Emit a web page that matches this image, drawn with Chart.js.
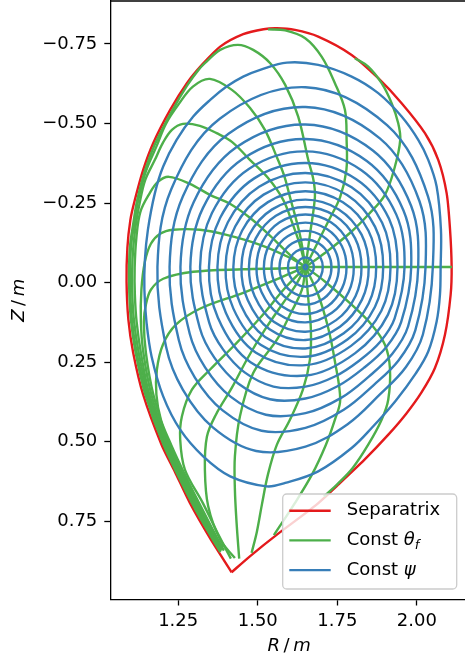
<!DOCTYPE html>
<html>
<head>
<meta charset="utf-8">
<script src="https://cdn.jsdelivr.net/npm/chart.js@4"></script>
<style>
html,body{margin:0;padding:0;background:#fff;overflow:hidden;}
#wrap{position:relative;width:470px;height:659px;}
</style>
</head>
<body>
<div id="wrap"><canvas id="c" width="470" height="659"></canvas></div>
<script>
// Axis limits (m) and tick positions
const rLimits = [1.0367, 2.160];
const zLimits = [-0.8847, 0.9955];
const rTicks = [1.25, 1.50, 1.75, 2.00];
const zTicks = [-0.75, -0.50, -0.25, 0.00, 0.25, 0.50, 0.75];

// Last closed surface, [R, Z] in m, from the X-point round and back
const separatrix = [
  [1.4178,0.9100],[1.3496,0.8020],[1.2868,0.6922],[1.2396,0.5939],[1.1978,0.5091],
  [1.1400,0.3521],[1.1086,0.2203],[1.0935,0.1166],[1.0878,-0.0027],[1.0904,-0.1094],
  [1.0998,-0.1973],[1.1139,-0.2601],[1.1400,-0.3543],[1.1714,-0.4381],[1.2249,-0.5427],
  [1.2774,-0.6265],[1.3245,-0.6840],[1.3820,-0.7414],[1.4543,-0.7804],[1.5181,-0.7961],
  [1.5602,-0.7992],[1.6168,-0.7939],[1.6900,-0.7729],[1.7950,-0.7154],[1.8786,-0.6422],
  [1.9521,-0.5637],[2.0253,-0.4695],[2.0671,-0.3857],[2.0935,-0.2812],[2.1039,-0.1713],
  [2.1092,-0.0507],[2.1061,0.0381],[2.0882,0.1637],[2.0567,0.2683],[2.0140,0.3458],
  [1.9665,0.4118],[1.9103,0.4777],[1.8355,0.5562],[1.7528,0.6347],[1.6828,0.6991],
  [1.5602,0.7917],[1.4753,0.8598],[1.4178,0.9100]
];

// Flux surfaces (closed), [R, Z] in m, innermost first, going round from the outboard midplane
const psi00 = [[1.656,-0.049],[1.650,-0.056],[1.644,-0.049],[1.650,-0.042]];
const psi01 = [[1.6761,-0.049],[1.6733,-0.0625],[1.6645,-0.0741],[1.650,-0.0791],[1.6353,-0.0744],[1.6258,-0.0630],[1.6227,-0.049],[1.6259,-0.0351],[1.6355,-0.0240],[1.650,-0.0195],[1.6643,-0.0243],[1.6732,-0.0356]];
const psi02 = [[1.7044,-0.049],[1.6979,-0.0766],[1.6786,-0.0984],[1.650,-0.1071],[1.6214,-0.0986],[1.6017,-0.0768],[1.5950,-0.049],[1.6010,-0.0207],[1.6199,0.0030],[1.650,0.0132],[1.6800,0.0029],[1.6985,-0.0210]];
const psi03 = [[1.7317,-0.049],[1.7217,-0.0904],[1.6926,-0.1227],[1.650,-0.1354],[1.6074,-0.1227],[1.5783,-0.0904],[1.5683,-0.049],[1.5773,-0.0071],[1.6056,0.0279],[1.650,0.0427],[1.6944,0.0279],[1.7227,-0.0071]];
const psi04 = [[1.7547,-0.049],[1.7424,-0.1023],[1.7055,-0.1451],[1.650,-0.1624],[1.5941,-0.1456],[1.5561,-0.1031],[1.5431,-0.049],[1.5553,0.0056],[1.5925,0.0505],[1.650,0.0691],[1.7072,0.0499],[1.7432,0.0048]];
const psi05 = [[1.7789,-0.049],[1.7641,-0.1148],[1.7184,-0.1674],[1.650,-0.1884],[1.5814,-0.1677],[1.5349,-0.1154],[1.5193,-0.049],[1.5332,0.0184],[1.5780,0.0756],[1.650,0.0986],[1.7206,0.0732],[1.7650,0.0173]];
const psi06 = [[1.8018,-0.049],[1.7848,-0.1267],[1.7310,-0.1891],[1.650,-0.2142],[1.5688,-0.1895],[1.5143,-0.1273],[1.4960,-0.049],[1.5121,0.0305],[1.5649,0.0983],[1.650,0.1250],[1.7330,0.0945],[1.7855,0.0292]];
const psi07 = [[1.8260,-0.049],[1.8060,-0.1390],[1.7430,-0.2099],[1.650,-0.2377],[1.5570,-0.2100],[1.4938,-0.1391],[1.4724,-0.049],[1.4903,0.0431],[1.5504,0.1232],[1.650,0.1545],[1.7464,0.1179],[1.8074,0.0418]];
const psi08 = [[1.8486,-0.049],[1.8262,-0.1506],[1.7545,-0.2299],[1.650,-0.2606],[1.5453,-0.2301],[1.4734,-0.1508],[1.4488,-0.049],[1.4688,0.0555],[1.5370,0.1465],[1.650,0.1805],[1.7583,0.1384],[1.8275,0.0534]];
const psi09 = [[1.8722,-0.049],[1.8478,-0.1631],[1.7675,-0.2523],[1.650,-0.2870],[1.5321,-0.2529],[1.4511,-0.1637],[1.4234,-0.049],[1.4459,0.0687],[1.5230,0.1707],[1.650,0.2069],[1.7703,0.1591],[1.8484,0.0654]];
const psi10 = [[1.8942,-0.049],[1.8687,-0.1752],[1.7808,-0.2754],[1.650,-0.3150],[1.5185,-0.2764],[1.4291,-0.1764],[1.3989,-0.049],[1.4234,0.0817],[1.5090,0.1949],[1.650,0.2330],[1.7817,0.1789],[1.8681,0.0768]];
const psi11 = [[1.9172,-0.049],[1.8908,-0.1879],[1.7949,-0.2997],[1.650,-0.3445],[1.5042,-0.3012],[1.4061,-0.1897],[1.3734,-0.049],[1.4000,0.0952],[1.4945,0.2200],[1.650,0.2593],[1.7932,0.1988],[1.8885,0.0886]];
const psi12 = [[1.9392,-0.049],[1.9126,-0.2005],[1.8095,-0.3249],[1.650,-0.3759],[1.4890,-0.3275],[1.3820,-0.2036],[1.3467,-0.049],[1.3745,0.1099],[1.4773,0.2498],[1.650,0.2920],[1.8063,0.2214],[1.9092,0.1005]];
const psi13 = [[1.9612,-0.049],[1.9354,-0.2136],[1.8257,-0.3531],[1.650,-0.4123],[1.4718,-0.3573],[1.3561,-0.2185],[1.3187,-0.049],[1.3475,0.1255],[1.3909,0.2098],[1.4587,0.2820],[1.5493,0.3265],[1.650,0.3269],[1.7422,0.2949],[1.8197,0.2445],[1.8849,0.1857],[1.9301,0.1125]];
const psi14 = [[1.9822,-0.049],[1.9579,-0.2266],[1.8426,-0.3822],[1.650,-0.4512],[1.4534,-0.3892],[1.3279,-0.2348],[1.2882,-0.049],[1.3179,0.1426],[1.3642,0.2365],[1.4384,0.3170],[1.5386,0.3665],[1.650,0.3642],[1.7505,0.3256],[1.8332,0.2680],[1.9029,0.2036],[1.9505,0.1243]];
const psi15 = [[2.0042,-0.049],[1.9821,-0.2405],[1.8617,-0.4152],[1.650,-0.4968],[1.4326,-0.4252],[1.2982,-0.2519],[1.2571,-0.049],[1.2863,0.1608],[1.3345,0.2662],[1.4146,0.3583],[1.5255,0.4150],[1.650,0.4101],[1.7605,0.3629],[1.8489,0.2952],[1.9229,0.2236],[1.9725,0.1370]];
const psi16 = [[2.0272,-0.049],[2.0082,-0.2556],[1.8836,-0.4531],[1.650,-0.5517],[1.4081,-0.4676],[1.2649,-0.2711],[1.2229,-0.049],[1.2519,0.1806],[1.3025,0.2982],[1.3896,0.4015],[1.5120,0.4654],[1.650,0.4562],[1.7702,0.3993],[1.8643,0.3217],[1.9429,0.2436],[1.9950,0.1500]];
const psi17 = [[2.0501,-0.049],[2.0349,-0.2710],[1.9071,-0.4939],[1.650,-0.6139],[1.3806,-0.5150],[1.2279,-0.2924],[1.1848,-0.049],[1.2123,0.2034],[1.2645,0.3362],[1.3588,0.4549],[1.4950,0.5291],[1.650,0.5153],[1.7824,0.4448],[1.8822,0.3528],[1.9651,0.2658],[2.0187,0.1636]];
const psi18 = [
  [2.0746,-0.0482],[2.0756,-0.1659],[2.0621,-0.3019],[2.0357,-0.3857],[2.0043,-0.4485],
  [1.9521,-0.5217],[1.8786,-0.5951],[1.7950,-0.6473],[1.6900,-0.6840],[1.5916,-0.6912],
  [1.5077,-0.6683],[1.4543,-0.6473],[1.4021,-0.6159],[1.3506,-0.5741],[1.2972,-0.5217],
  [1.2450,-0.4485],[1.2029,-0.3647],[1.1768,-0.2812],[1.1548,-0.1659],[1.1454,-0.0717],
  [1.1438,0.0224],[1.1507,0.1270],[1.1664,0.2319],[1.2029,0.3575],[1.2563,0.4620],
  [1.3286,0.5458],[1.4135,0.6086],[1.5278,0.6400],[1.5863,0.6294],[1.6900,0.5929],
  [1.7950,0.5195],[1.8578,0.4567],[1.9329,0.3716],[1.9961,0.2859],[2.0357,0.2162],
  [2.0621,0.1220],[2.0725,0.0381]
];

// Lines of constant poloidal angle, [R, Z] in m, from the magnetic axis outwards
const theta00 = [[1.650,-0.049],[2.1102,-0.049]];
const theta01 = [[1.650,-0.049],[1.7110,-0.0928],[1.7950,-0.1606],[1.8471,-0.2130],[1.8996,-0.2758],[1.9310,-0.3647],[1.9477,-0.4485],[1.9414,-0.5009],[1.9207,-0.5637],[1.8892,-0.6265],[1.8471,-0.6787],[1.8053,-0.7050]];
const theta02 = [[1.650,-0.049],[1.6900,-0.1292],[1.7214,-0.1920],[1.7591,-0.2695],[1.7786,-0.3543],[1.7792,-0.4485],[1.7739,-0.5427],[1.7425,-0.6265],[1.7007,-0.7101],[1.6491,-0.7678],[1.5863,-0.7923],[1.5319,-0.7954]];
const theta03 = [[1.650,-0.049],[1.6639,-0.1502],[1.6796,-0.2695],[1.6749,-0.3229],[1.6586,-0.3857],[1.6271,-0.5217],[1.5863,-0.6212],[1.5392,-0.6893],[1.4857,-0.7311],[1.4376,-0.7468],[1.3820,-0.7311],[1.3393,-0.6944],[1.3151,-0.6699],[1.2773,-0.6181],[1.2318,-0.5411],[1.1768,-0.4344],[1.1454,-0.3512],[1.1212,-0.2586],[1.1098,-0.1911],[1.0982,-0.1094],[1.0957,-0.0027],[1.1014,0.1166],[1.1164,0.2203],[1.1469,0.3521],[1.2041,0.5091],[1.2937,0.6928],[1.3553,0.8011],[1.3826,0.8466]];
const theta04 = [[1.650,-0.049],[1.6325,-0.1502],[1.6011,-0.2695],[1.5822,-0.3386],[1.5570,-0.4014],[1.5225,-0.4799],[1.4753,-0.5490],[1.4188,-0.6055],[1.3496,-0.6400],[1.2962,-0.6159],[1.2522,-0.5615],[1.2114,-0.4988],[1.1831,-0.4312],[1.1485,-0.3496],[1.1243,-0.2586],[1.1130,-0.1911],[1.1014,-0.1094],[1.0988,-0.0027],[1.1045,0.1166],[1.1196,0.2203],[1.1510,0.3521],[1.2073,0.5091],[1.2968,0.6928],[1.3575,0.8011],[1.3842,0.8435]];
const theta05 = [[1.650,-0.049],[1.6325,-0.1188],[1.6073,-0.1911],[1.5800,-0.2601],[1.5319,-0.3292],[1.4753,-0.3857],[1.4188,-0.4422],[1.3707,-0.4695],[1.3182,-0.4925],[1.2648,-0.4988],[1.2302,-0.4799],[1.2019,-0.4391],[1.1768,-0.3857],[1.1466,-0.3229],[1.1297,-0.2538],[1.1146,-0.1659],[1.1064,-0.0717],[1.1054,0.0224],[1.1108,0.1166],[1.1259,0.2203],[1.1557,0.3521],[1.2104,0.5091],[1.3000,0.6928],[1.3597,0.8011],[1.3858,0.8403]];
const theta06 = [[1.650,-0.049],[1.6011,-0.0874],[1.5392,-0.1471],[1.4753,-0.2036],[1.4125,-0.2476],[1.3496,-0.2758],[1.2868,-0.3104],[1.2208,-0.3323],[1.1862,-0.3166],[1.1611,-0.2821],[1.1312,-0.2225],[1.1186,-0.1408],[1.1133,-0.0466],[1.1139,0.0381],[1.1193,0.1229],[1.1328,0.2203],[1.1595,0.3521],[1.2136,0.5091],[1.3031,0.6928],[1.3622,0.8011],[1.3873,0.8372]];
const theta07 = [[1.650,-0.049],[1.6011,-0.0780],[1.5077,-0.1188],[1.4021,-0.1502],[1.3182,-0.1659],[1.2343,-0.1659],[1.1934,-0.1534],[1.1642,-0.1220],[1.1454,-0.0655],[1.1344,0.0224],[1.1328,0.1229],[1.1406,0.2203],[1.1658,0.3521],[1.2176,0.5091],[1.3063,0.6928],[1.3647,0.8011],[1.3889,0.8341]];
const theta08 = [[1.650,-0.049],[1.5863,-0.0451],[1.4543,-0.0419],[1.2972,-0.0341],[1.2029,-0.0121],[1.1642,0.0224],[1.1485,0.0695],[1.1422,0.1229],[1.1485,0.2203],[1.1721,0.3521],[1.2224,0.5091],[1.3094,0.6928],[1.3669,0.8011],[1.3905,0.8309]];
const theta09 = [[1.650,-0.049],[1.5706,-0.0152],[1.4543,0.0319],[1.3182,0.0821],[1.2428,0.1323],[1.2019,0.1951],[1.1831,0.2736],[1.1815,0.3521],[1.1956,0.4306],[1.2277,0.5091],[1.2711,0.6033],[1.3157,0.6928],[1.3716,0.8011],[1.3936,0.8419]];
const theta10 = [[1.650,-0.049],[1.5863,0.0162],[1.5077,0.1104],[1.4282,0.1951],[1.3496,0.2736],[1.2931,0.3364],[1.2616,0.4203],[1.2563,0.4934],[1.2711,0.5876],[1.3276,0.6928],[1.3795,0.7980],[1.4156,0.8670]];
const theta11 = [[1.650,-0.049],[1.6199,0.0068],[1.5759,0.0695],[1.5225,0.1480],[1.4690,0.2360],[1.4188,0.3301],[1.3685,0.4149],[1.3402,0.4840],[1.3339,0.5876],[1.3443,0.7028],[1.3820,0.8074],[1.4282,0.8655]];
const theta12 = [[1.650,-0.049],[1.6388,0.0224],[1.6011,0.1009],[1.5602,0.1794],[1.4857,0.2840],[1.4439,0.4203],[1.4282,0.5458],[1.4282,0.6504],[1.4335,0.7549],[1.4417,0.8670]];
const theta13 = [[1.650,-0.049],[1.6576,0.0381],[1.6670,0.1480],[1.6639,0.2422],[1.6419,0.3364],[1.6011,0.4306],[1.5602,0.5091],[1.5319,0.6033],[1.5130,0.6975],[1.4973,0.7823],[1.4807,0.8491]];
const theta14 = [[1.650,-0.049],[1.6900,0.0381],[1.7214,0.1427],[1.7425,0.2476],[1.7591,0.3678],[1.7425,0.4306],[1.7142,0.5091],[1.6702,0.6033],[1.6136,0.6975],[1.5508,0.7932]];
const theta15 = [[1.650,-0.049],[1.7110,-0.0036],[1.7950,0.0695],[1.8578,0.1323],[1.8996,0.1951],[1.9153,0.2683],[1.9100,0.3678],[1.8892,0.4306],[1.8471,0.5091],[1.7990,0.5813],[1.7519,0.6315],[1.7079,0.6724]];

const RED = '#e41a1c', GREEN = '#4daf4a', BLUE = '#377eb8';
const LW = 2.4;

const toXY = pts => pts.map(p => ({x: p[0], y: p[1]}));

function openLine(pts, color, order, label, tension) {
  return {label, data: toXY(pts), showLine: true, borderColor: color, borderWidth: LW,
    pointRadius: 0, tension, fill: false, order};
}
// Closed smooth curve: wrap one point on each side, hide the two end segments
function ring(pts, color, order, label) {
  const n = pts.length;
  const w = [pts[n - 1], ...pts, pts[0], pts[1]];
  const last = w.length - 2;
  return {label, data: toXY(w), showLine: true, borderColor: color, borderWidth: LW,
    pointRadius: 0, tension: 0.36, fill: false, order,
    segment: {borderColor: c => (c.p0DataIndex === 0 || c.p0DataIndex === last) ? 'rgba(0,0,0,0)' : color}};
}

const surfaces = [psi00, psi01, psi02, psi03, psi04, psi05, psi06, psi07, psi08, psi09,
  psi10, psi11, psi12, psi13, psi14, psi15, psi16, psi17, psi18];
const angles = [theta00, theta01, theta02, theta03, theta04, theta05, theta06, theta07,
  theta08, theta09, theta10, theta11, theta12, theta13, theta14, theta15];

const datasets = [];
surfaces.forEach(p => datasets.push(ring(p, BLUE, 0, 'Const ψ')));
angles.forEach(t => datasets.push(openLine(t, GREEN, 1, 'Const θf', 0.35)));
datasets.push(openLine(separatrix, RED, 2, 'Separatrix', 0.25));

const tickFont = {family: 'DejaVu Sans', size: 18};
const fmt = v => (v < 0 ? '\u2212' : '') + Math.abs(v).toFixed(2);

// Frame top edge, axis titles with italic symbols, and legend box
const decor = {
  id: 'decor',
  afterDraw(chart) {
    const ctx = chart.ctx, a = chart.chartArea;
    ctx.save();
    ctx.strokeStyle = '#000'; ctx.lineWidth = 1.3;
    ctx.beginPath(); ctx.moveTo(a.left, a.top); ctx.lineTo(a.right, a.top); ctx.stroke();

    const drawParts = (parts, x, y) => {
      let w = 0;
      parts.forEach(p => { ctx.font = p[1]; w += ctx.measureText(p[0]).width; });
      let cx = x - w / 2;
      parts.forEach(p => { ctx.font = p[1]; ctx.fillText(p[0], cx, y); cx += ctx.measureText(p[0]).width; });
    };
    const it = 'italic 18px "DejaVu Sans"', up = '18px "DejaVu Sans"';
    ctx.fillStyle = '#000'; ctx.textBaseline = 'middle'; ctx.textAlign = 'left';
    drawParts([['R', it], ['\u2009/\u2009', up], ['m', it]], (a.left + a.right) / 2, 646);
    ctx.save();
    ctx.translate(19, (a.top + a.bottom) / 2);
    ctx.rotate(-Math.PI / 2);
    drawParts([['Z', it], ['\u2009/\u2009', up], ['m', it]], 0, 0);
    ctx.restore();

    // legend
    const bx = 282.7, by = 494, bw = 174, bh = 95, r = 4;
    ctx.beginPath();
    ctx.moveTo(bx + r, by); ctx.arcTo(bx + bw, by, bx + bw, by + bh, r);
    ctx.arcTo(bx + bw, by + bh, bx, by + bh, r); ctx.arcTo(bx, by + bh, bx, by, r);
    ctx.arcTo(bx, by, bx + bw, by, r); ctx.closePath();
    ctx.fillStyle = 'rgba(255,255,255,0.8)'; ctx.fill();
    ctx.strokeStyle = '#cccccc'; ctx.lineWidth = 1.3; ctx.stroke();
    const rows = [
      [RED, [['Separatrix', up]]],
      [GREEN, [['Const ', up], ['\u03b8', it], ['f', 'italic 13px "DejaVu Sans"', 5]]],
      [BLUE, [['Const ', up], ['\u03c8', it]]]
    ];
    rows.forEach((row, i) => {
      const y = 510.7 + i * 29.7;
      ctx.strokeStyle = row[0]; ctx.lineWidth = LW;
      ctx.beginPath(); ctx.moveTo(289.3, y); ctx.lineTo(330.7, y); ctx.stroke();
      ctx.fillStyle = '#000';
      let x = 346.7;
      row[1].forEach(p => {
        ctx.font = p[1];
        ctx.fillText(p[0], x, y + (p[2] || 0));
        x += ctx.measureText(p[0]).width;
      });
    });
    ctx.restore();
  }
};

new Chart(document.getElementById('c'), {
  type: 'scatter',
  data: {datasets},
  options: {
    responsive: false, animation: false,
    layout: {padding: {left: 0, top: 1, right: 2.2, bottom: 0}},
    plugins: {legend: {display: false}, tooltip: {enabled: false}},
    scales: {
      x: {
        type: 'linear', min: rLimits[0], max: rLimits[1],
        afterBuildTicks: s => { s.ticks = rTicks.map(v => ({value: v})); },
        afterFit: s => { s.height = 59.5; s.paddingLeft = 0; s.paddingRight = 0; },
        ticks: {font: tickFont, color: '#000', padding: 5, callback: fmt, autoSkip: false, maxRotation: 0},
        grid: {drawOnChartArea: false, drawTicks: true, tickLength: 6, tickWidth: 1.3, tickColor: '#000'},
        border: {display: true, color: '#000', width: 1.3}
      },
      y: {
        type: 'linear', min: zLimits[0], max: zLimits[1], reverse: true,
        afterBuildTicks: s => { s.ticks = zTicks.map(v => ({value: v})); },
        afterFit: s => { s.width = 110.3; s.paddingTop = 0; s.paddingBottom = 0; },
        ticks: {font: tickFont, color: '#000', padding: 7, callback: fmt, autoSkip: false},
        grid: {drawOnChartArea: false, drawTicks: true, tickLength: 6, tickWidth: 1.3, tickColor: '#000'},
        border: {display: true, color: '#000', width: 1.3}
      }
    }
  },
  plugins: [decor]
});
</script>
</body>
</html>
